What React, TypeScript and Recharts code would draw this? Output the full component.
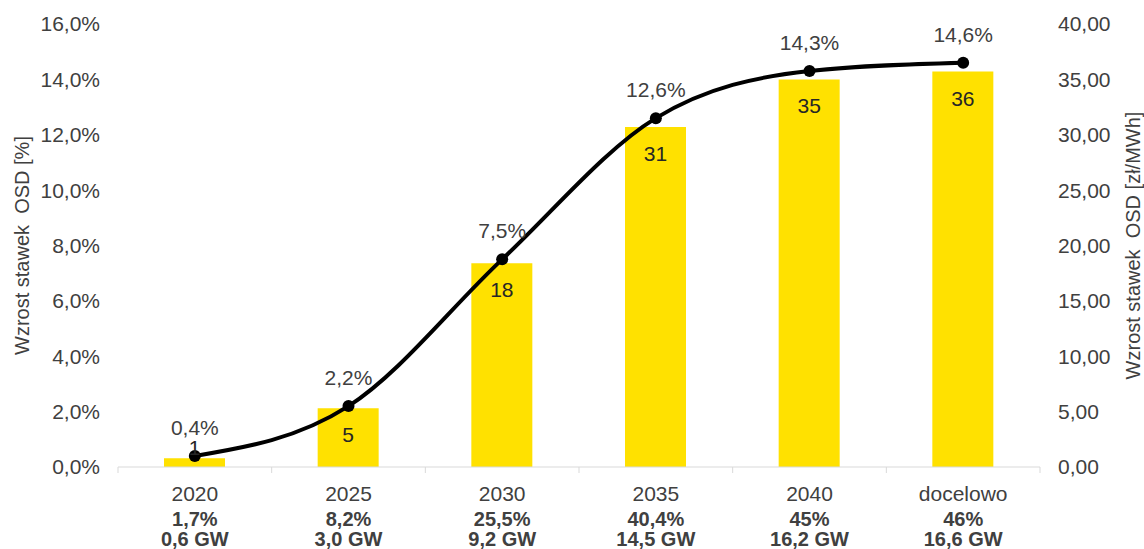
import React from "react"
import {
  ComposedChart,
  Bar,
  Line,
  XAxis,
  YAxis,
  LabelList,
} from "recharts"

const categories = ["2020", "2025", "2030", "2035", "2040", "docelowo"]
const sharesLabels = ["1,7%", "8,2%", "25,5%", "40,4%", "45%", "46%"]
const capacityLabels = ["0,6 GW", "3,0 GW", "9,2 GW", "14,5 GW", "16,2 GW", "16,6 GW"]
const rateIncreasePct = [0.4, 2.2, 7.5, 12.6, 14.3, 14.6]
const costPerMWh = [0.8, 5.3, 18.4, 30.7, 35.0, 35.7]
const leftTicks = [0, 2, 4, 6, 8, 10, 12, 14, 16]
const rightTicks = [0, 5, 10, 15, 20, 25, 30, 35, 40]

const data = categories.map((c, i) => ({
  name: c,
  share: sharesLabels[i],
  capacity: capacityLabels[i],
  pct: rateIncreasePct[i],
  cost: costPerMWh[i],
}))

const FONT = "'Liberation Sans', Arial, sans-serif"
const TEXT = "#404040"
const YELLOW = "#FFE100"
const AXIS = "#d9d9d9"

const fmtPct = (v: number) => v.toFixed(1).replace(".", ",") + "%"
const fmtCost = (v: number) => v.toFixed(2).replace(".", ",")

function CategoryTick(props: any) {
  const { x, y, payload, index, visibleTicksCount, width } = props
  const half = payload?.offset ?? width / visibleTicksCount / 2
  const row = data[index] ?? data.find((d) => d.name === payload.value)
  return (
    <g>
      <line x1={x - half} x2={x - half} y1={y} y2={y + 6} stroke={AXIS} />
      {index === visibleTicksCount - 1 && (
        <line x1={x + half} x2={x + half} y1={y} y2={y + 6} stroke={AXIS} />
      )}
      <text x={x} y={y + 34} textAnchor="middle" fill={TEXT} fontSize={21} fontFamily={FONT}>
        {payload.value}
      </text>
      <text x={x} y={y + 59} textAnchor="middle" fill={TEXT} fontSize={20} fontWeight="bold" fontFamily={FONT}>
        {row?.share}
      </text>
      <text x={x} y={y + 79} textAnchor="middle" fill={TEXT} fontSize={20} fontWeight="bold" fontFamily={FONT}>
        {row?.capacity}
      </text>
    </g>
  )
}

function BarValueLabel(props: any) {
  const { x, y, width, height, value } = props
  const base = y + height
  const ty = Math.min(y + 34, base - 12)
  return (
    <text x={x + width / 2} y={ty} textAnchor="middle" fill="#262626" fontSize={21} fontFamily={FONT}>
      {Math.round(value)}
    </text>
  )
}

function LineValueLabel(props: any) {
  const { x, y, value } = props
  return (
    <text x={x} y={y - 21} textAnchor="middle" fill={TEXT} fontSize={21} fontFamily={FONT}>
      {fmtPct(value)}
    </text>
  )
}

function AxisTitle({ viewBox, text, cx }: any) {
  const cy = viewBox.y + viewBox.height / 2
  return (
    <text
      x={cx}
      y={cy}
      transform={`rotate(-90, ${cx}, ${cy})`}
      textAnchor="middle"
      dominantBaseline="central"
      fill={TEXT}
      fontSize={20}
      fontFamily={FONT}
      style={{ whiteSpace: "pre" }}
    >
      {text}
    </text>
  )
}

export default function App() {
  return (
    <div style={{ position: "absolute", left: 0, top: 0, width: 1144, height: 549, background: "#fff" }}>
      <ComposedChart
        width={1144}
        height={549}
        data={data}
        margin={{ top: 24, right: 0, bottom: 0, left: 0 }}
        barCategoryGap={0}
      >
        <XAxis
          dataKey="name"
          height={82}
          axisLine={{ stroke: AXIS }}
          tickLine={false}
          tickSize={0}
          tickMargin={0}
          interval={0}
          tick={<CategoryTick />}
        />
        <YAxis
          yAxisId="left"
          orientation="left"
          width={118}
          domain={[0, 16]}
          ticks={leftTicks}
          tickFormatter={fmtPct}
          axisLine={false}
          tickLine={false}
          tickSize={0}
          tickMargin={18}
          tick={{ fill: TEXT, fontSize: 21, fontFamily: FONT }}
          label={{ content: (p: any) => <AxisTitle {...p} cx={22} text="Wzrost stawek  OSD [%]" /> }}
        />
        <YAxis
          yAxisId="right"
          orientation="right"
          width={104}
          domain={[0, 40]}
          ticks={rightTicks}
          tickFormatter={fmtCost}
          axisLine={false}
          tickLine={false}
          tickSize={0}
          tickMargin={18}
          tick={{ fill: TEXT, fontSize: 21, fontFamily: FONT }}
          label={{ content: (p: any) => <AxisTitle {...p} cx={1133} text="Wzrost stawek  OSD [zł/MWh]" /> }}
        />
        <Bar yAxisId="right" dataKey="cost" fill={YELLOW} barSize={61} isAnimationActive={false}>
          <LabelList dataKey="cost" content={<BarValueLabel />} />
        </Bar>
        <Line
          yAxisId="left"
          type="monotone"
          dataKey="pct"
          stroke="#000"
          strokeWidth={4}
          dot={{ r: 6, fill: "#000", stroke: "#000", strokeWidth: 0 }}
          activeDot={false}
          isAnimationActive={false}
        >
          <LabelList dataKey="pct" content={<LineValueLabel />} />
        </Line>
      </ComposedChart>
    </div>
  )
}
